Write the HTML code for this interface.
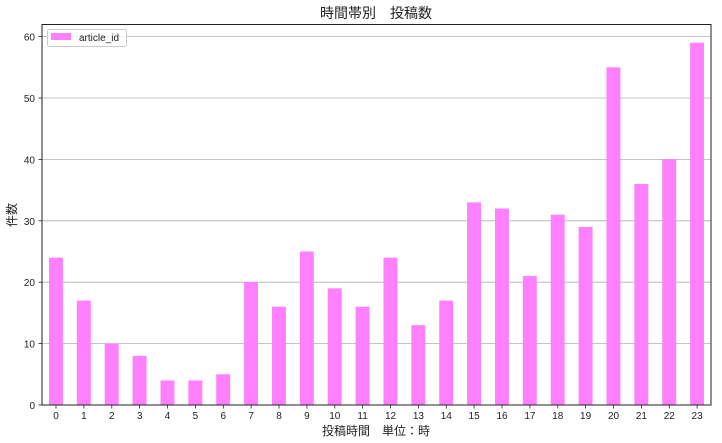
<!DOCTYPE html>
<html><head><meta charset="utf-8"><style>
html,body{margin:0;padding:0;background:#fff;}
svg{display:block;font-family:"Liberation Sans","Noto Sans CJK JP",sans-serif;}
</style></head><body>
<svg width="722" height="443" viewBox="0 0 722 443">
<rect width="722" height="443" fill="#fff"/>
<g stroke="#b0b0b0" stroke-width="0.8">
<line x1="42" x2="711" y1="343.6" y2="343.6"/>
<line x1="42" x2="711" y1="282.2" y2="282.2"/>
<line x1="42" x2="711" y1="220.8" y2="220.8"/>
<line x1="42" x2="711" y1="159.4" y2="159.4"/>
<line x1="42" x2="711" y1="98" y2="98"/>
<line x1="42" x2="711" y1="36.6" y2="36.6"/>
</g>
<g transform="translate(0,405) scale(1,-1)" fill="#ff80ff">
<rect x="48.97" width="13.94" y="0" height="147.36"/>
<rect x="76.85" width="13.94" y="0" height="104.38"/>
<rect x="104.72" width="13.94" y="0" height="61.4"/>
<rect x="132.6" width="13.94" y="0" height="49.12"/>
<rect x="160.47" width="13.94" y="0" height="24.56"/>
<rect x="188.35" width="13.94" y="0" height="24.56"/>
<rect x="216.22" width="13.94" y="0" height="30.7"/>
<rect x="244.1" width="13.94" y="0" height="122.8"/>
<rect x="271.97" width="13.94" y="0" height="98.24"/>
<rect x="299.85" width="13.94" y="0" height="153.5"/>
<rect x="327.72" width="13.94" y="0" height="116.66"/>
<rect x="355.6" width="13.94" y="0" height="98.24"/>
<rect x="383.47" width="13.94" y="0" height="147.36"/>
<rect x="411.35" width="13.94" y="0" height="79.82"/>
<rect x="439.22" width="13.94" y="0" height="104.38"/>
<rect x="467.1" width="13.94" y="0" height="202.62"/>
<rect x="494.97" width="13.94" y="0" height="196.48"/>
<rect x="522.85" width="13.94" y="0" height="128.94"/>
<rect x="550.72" width="13.94" y="0" height="190.34"/>
<rect x="578.6" width="13.94" y="0" height="178.06"/>
<rect x="606.47" width="13.94" y="0" height="337.7"/>
<rect x="634.35" width="13.94" y="0" height="221.04"/>
<rect x="662.22" width="13.94" y="0" height="245.6"/>
<rect x="690.1" width="13.94" y="0" height="362.26"/>
</g>
<rect x="42" y="24.5" width="669" height="380.5" fill="none" stroke="#222" stroke-width="1"/>
<g stroke="#222" stroke-width="0.8">
<line x1="38.5" x2="42" y1="405" y2="405"/>
<line x1="38.5" x2="42" y1="343.6" y2="343.6"/>
<line x1="38.5" x2="42" y1="282.2" y2="282.2"/>
<line x1="38.5" x2="42" y1="220.8" y2="220.8"/>
<line x1="38.5" x2="42" y1="159.4" y2="159.4"/>
<line x1="38.5" x2="42" y1="98" y2="98"/>
<line x1="38.5" x2="42" y1="36.6" y2="36.6"/>
</g>
<g font-size="10" fill="#222" text-anchor="end">
<text x="35" y="409">0</text>
<text x="35" y="347.6">10</text>
<text x="35" y="286.2">20</text>
<text x="35" y="224.8">30</text>
<text x="35" y="163.4">40</text>
<text x="35" y="102">50</text>
<text x="35" y="40.6">60</text>
</g>
<g font-size="10" fill="#222" text-anchor="middle">
<text x="56" y="419">0</text><text x="83.9" y="419">1</text><text x="111.8" y="419">2</text><text x="139.6" y="419">3</text>
<text x="167.5" y="419">4</text><text x="195.4" y="419">5</text><text x="223.3" y="419">6</text><text x="251.1" y="419">7</text>
<text x="279" y="419">8</text><text x="306.9" y="419">9</text><text x="334.8" y="419">10</text><text x="362.6" y="419">11</text>
<text x="390.5" y="419">12</text><text x="418.4" y="419">13</text><text x="446.3" y="419">14</text><text x="474.1" y="419">15</text>
<text x="502" y="419">16</text><text x="529.9" y="419">17</text><text x="557.8" y="419">18</text><text x="585.6" y="419">19</text>
<text x="613.5" y="419">20</text><text x="641.4" y="419">21</text><text x="669.3" y="419">22</text><text x="697.1" y="419">23</text>
</g>
<g stroke="#222" stroke-width="0.8">
<line x1="56" x2="56" y1="405" y2="408.5"/><line x1="83.9" x2="83.9" y1="405" y2="408.5"/><line x1="111.8" x2="111.8" y1="405" y2="408.5"/><line x1="139.6" x2="139.6" y1="405" y2="408.5"/>
<line x1="167.5" x2="167.5" y1="405" y2="408.5"/><line x1="195.4" x2="195.4" y1="405" y2="408.5"/><line x1="223.3" x2="223.3" y1="405" y2="408.5"/><line x1="251.1" x2="251.1" y1="405" y2="408.5"/>
<line x1="279" x2="279" y1="405" y2="408.5"/><line x1="306.9" x2="306.9" y1="405" y2="408.5"/><line x1="334.8" x2="334.8" y1="405" y2="408.5"/><line x1="362.6" x2="362.6" y1="405" y2="408.5"/>
<line x1="390.5" x2="390.5" y1="405" y2="408.5"/><line x1="418.4" x2="418.4" y1="405" y2="408.5"/><line x1="446.3" x2="446.3" y1="405" y2="408.5"/><line x1="474.1" x2="474.1" y1="405" y2="408.5"/>
<line x1="502" x2="502" y1="405" y2="408.5"/><line x1="529.9" x2="529.9" y1="405" y2="408.5"/><line x1="557.8" x2="557.8" y1="405" y2="408.5"/><line x1="585.6" x2="585.6" y1="405" y2="408.5"/>
<line x1="613.5" x2="613.5" y1="405" y2="408.5"/><line x1="641.4" x2="641.4" y1="405" y2="408.5"/><line x1="669.3" x2="669.3" y1="405" y2="408.5"/><line x1="697.1" x2="697.1" y1="405" y2="408.5"/>
</g>
<text x="376" y="435" font-size="12" fill="#222" text-anchor="middle">投稿時間　単位：時</text>
<text transform="translate(16,215) rotate(-90)" font-size="12" fill="#222" text-anchor="middle">件数</text>
<text x="376" y="18" font-size="14" fill="#222" text-anchor="middle">時間帯別　投稿数</text>
<rect x="47.5" y="29.5" width="79" height="17" rx="2" fill="#fff" fill-opacity="0.8" stroke="#ccc" stroke-width="1"/>
<rect x="51" y="33" width="20" height="7" fill="#ff80ff"/>
<text x="79" y="41" font-size="10" fill="#222">article_id</text>
</svg>
</body></html>
